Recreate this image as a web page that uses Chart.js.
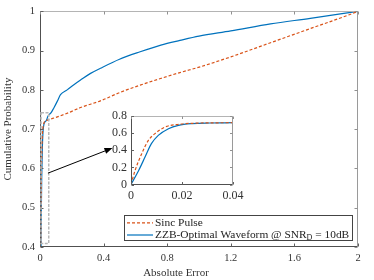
<!DOCTYPE html>
<html><head><meta charset="utf-8">
<script src="https://cdn.jsdelivr.net/npm/chart.js@4.4.1/dist/chart.umd.min.js"></script>
<style>
html,body{margin:0;padding:0;background:#fff;}
#wrap{position:relative;width:374px;height:280px;overflow:hidden;}
#main{position:absolute;left:0;top:0;}
#inset{position:absolute;left:100px;top:104px;}
</style></head><body>
<div id="wrap">
<canvas id="main" width="374" height="280"></canvas>
<canvas id="inset" width="150" height="110"></canvas>
</div>
<script>
// ---- data ----
const zzbErr = [0, 0.003, 0.0055, 0.008, 0.0107, 0.0147, 0.0186, 0.024, 0.031, 0.04, 0.05, 0.07, 0.087, 0.11, 0.129, 0.171, 0.213, 0.255, 0.318, 0.38, 0.5, 0.63, 0.76, 0.88, 1.0, 1.2, 1.45, 1.7, 2.0];
const zzbCdf = [0, 0.164, 0.32, 0.477, 0.574, 0.652, 0.691, 0.711, 0.718, 0.722, 0.733, 0.742, 0.754, 0.772, 0.788, 0.80, 0.813, 0.825, 0.842, 0.855, 0.878, 0.897, 0.914, 0.926, 0.937, 0.950, 0.968, 0.982, 1.0];
const sincErr = [0, 0.0016, 0.0042, 0.0068, 0.0094, 0.0134, 0.0186, 0.025, 0.032, 0.04, 0.06, 0.1, 0.18, 0.255, 0.38, 0.506, 0.63, 0.758, 0.88, 1.01, 1.2, 1.45, 1.7, 1.95, 2.0];
const sincCdf = [0, 0.164, 0.36, 0.515, 0.594, 0.672, 0.703, 0.716, 0.72, 0.722, 0.725, 0.73, 0.742, 0.755, 0.772, 0.794, 0.812, 0.829, 0.844, 0.859, 0.884, 0.92, 0.956, 0.992, 1.0];
const mainXTicks = [0, 0.4, 0.8, 1.2, 1.6, 2];
const mainYTicks = [0.4, 0.5, 0.6, 0.7, 0.8, 0.9, 1];
const insetXTicks = [0, 0.02, 0.04];
const insetYTicks = [0, 0.2, 0.4, 0.6, 0.8];
const seriesNames = ['Sinc Pulse', 'ZZB-Optimal Waveform @ SNR'];
const zoomBox = {x0: 0, x1: 0.055, y0: 0.409, y1: 0.742};
const arrowFrom = {x: 0.05, y: 0.588};
const arrowTo = {x: 0.456, y: 0.652};

const SERIF = '"Liberation Serif", "Times New Roman", serif';
const ORANGE = '#D95319', BLUE = '#0072BD';
const fmt = v => String(Math.round(v * 1000) / 1000);
const pts = (xs, ys) => xs.map((v, i) => ({x: v, y: ys[i]}));

function datasets() {
  return [
    {label: seriesNames[0], data: pts(sincErr, sincCdf), showLine: true, borderColor: ORANGE,
     borderWidth: 1.2, borderDash: [3, 2], pointRadius: 0, cubicInterpolationMode: 'monotone'},
    {label: seriesNames[1], data: pts(zzbErr, zzbCdf), showLine: true, borderColor: BLUE,
     borderWidth: 1.2, pointRadius: 0, cubicInterpolationMode: 'monotone'}
  ];
}

function axis(min, max, ticks, size, pad, fitProp, fitVal) {
  return {
    type: 'linear', min: min, max: max,
    grid: {display: false, drawTicks: false, tickLength: 0}, border: {display: false},
    ticks: {font: {family: SERIF, size: size}, color: '#333', padding: pad,
            maxRotation: 0, autoSkip: false, callback: v => fmt(v)},
    afterBuildTicks: s => { s.ticks = ticks.map(v => ({value: v})); },
    afterFit: s => { s[fitProp] = fitVal; }
  };
}

function drawFrame(chart, xTicks, yTicks, tl) {
  const {ctx, chartArea: a, scales: {x, y}} = chart;
  const L = Math.round(a.left) + 0.5, R = Math.round(a.right) - 0.5;
  const T = Math.round(a.top) + 0.5, B = Math.round(a.bottom) - 0.5;
  ctx.save();
  ctx.lineWidth = 1;
  const seg = (c, x1, y1, x2, y2) => { ctx.strokeStyle = c; ctx.beginPath(); ctx.moveTo(x1, y1); ctx.lineTo(x2, y2); ctx.stroke(); };
  seg('#b4b4b4', L, T, R, T);
  seg('#9a9a9a', R, T, R, B);
  seg('#505050', L, T, L, B);
  seg('#505050', L, B, R, B);
  xTicks.forEach(v => {
    const px = Math.round(x.getPixelForValue(v)) + 0.5;
    seg('#606060', px, B, px, B - tl);
    seg('#909090', px, T, px, T + tl);
  });
  yTicks.forEach(v => {
    const py = Math.round(y.getPixelForValue(v)) + 0.5;
    seg('#606060', L, py, L + tl, py);
    seg('#909090', R, py, R - tl, py);
  });
  ctx.restore();
}

const mainPlugin = {
  id: 'mainDecor',
  afterDatasetsDraw(chart) {
    const {ctx, scales: {x, y}} = chart;
    drawFrame(chart, mainXTicks, mainYTicks, 3);
    // zoom rectangle
    ctx.save();
    ctx.strokeStyle = '#b8b8b8'; ctx.lineWidth = 1.5; ctx.setLineDash([3, 1.5]);
    const rx0 = x.getPixelForValue(zoomBox.x0) + 1, rx1 = x.getPixelForValue(zoomBox.x1);
    const ry0 = y.getPixelForValue(zoomBox.y1), ry1 = y.getPixelForValue(zoomBox.y0);
    ctx.strokeRect(rx0, ry0, rx1 - rx0, ry1 - ry0);
    ctx.restore();
    // arrow
    const ax0 = x.getPixelForValue(arrowFrom.x), ay0 = y.getPixelForValue(arrowFrom.y);
    const ax1 = x.getPixelForValue(arrowTo.x), ay1 = y.getPixelForValue(arrowTo.y);
    const ang = Math.atan2(ay1 - ay0, ax1 - ax0), hl = 8, hw = 3;
    const bx = ax1 - hl * Math.cos(ang), by = ay1 - hl * Math.sin(ang);
    ctx.save();
    ctx.strokeStyle = '#000'; ctx.fillStyle = '#000'; ctx.lineWidth = 1;
    ctx.beginPath(); ctx.moveTo(ax0, ay0); ctx.lineTo(bx, by); ctx.stroke();
    ctx.beginPath(); ctx.moveTo(ax1, ay1);
    ctx.lineTo(bx + hw * Math.sin(ang), by - hw * Math.cos(ang));
    ctx.lineTo(bx - hw * Math.sin(ang), by + hw * Math.cos(ang));
    ctx.closePath(); ctx.fill();
    ctx.restore();
    // legend
    ctx.save();
    ctx.fillStyle = '#fff'; ctx.fillRect(124, 215, 229, 26);
    ctx.strokeStyle = '#444'; ctx.lineWidth = 1; ctx.strokeRect(124.5, 215.5, 228, 25);
    const rows = [222.8, 235];
    ctx.lineWidth = 1.2;
    ctx.strokeStyle = ORANGE; ctx.setLineDash([3, 2]);
    ctx.beginPath(); ctx.moveTo(127, rows[0]); ctx.lineTo(153, rows[0]); ctx.stroke();
    ctx.setLineDash([]); ctx.strokeStyle = BLUE;
    ctx.beginPath(); ctx.moveTo(127, rows[1]); ctx.lineTo(153, rows[1]); ctx.stroke();
    ctx.fillStyle = '#222'; ctx.textAlign = 'left'; ctx.textBaseline = 'middle';
    ctx.font = '11.4px ' + SERIF;
    ctx.fillText(seriesNames[0], 155, rows[0]);
    ctx.fillText(seriesNames[1], 155, rows[1]);
    let wx = 155 + ctx.measureText(seriesNames[1]).width;
    ctx.font = '8px ' + SERIF;
    ctx.fillText('D', wx, rows[1] + 2.5);
    wx += ctx.measureText('D').width;
    ctx.font = '11.4px ' + SERIF;
    ctx.fillText(' = 10dB', wx, rows[1]);
    ctx.restore();
    // axis titles
    ctx.save();
    ctx.fillStyle = '#333'; ctx.font = '11px ' + SERIF; ctx.textAlign = 'center'; ctx.textBaseline = 'middle';
    ctx.fillText('Absolute Error', 176, 273);
    ctx.translate(8.5, 129); ctx.rotate(-Math.PI / 2);
    ctx.fillText('Cumulative Probability', 0, 0);
    ctx.restore();
  }
};

new Chart(document.getElementById('main'), {
  type: 'scatter',
  data: {datasets: datasets()},
  options: {
    animation: false, responsive: false, devicePixelRatio: 1,
    layout: {padding: {left: 0, right: 16, top: 9, bottom: 0}},
    plugins: {legend: {display: false}, tooltip: {enabled: false}},
    scales: {
      x: axis(0, 2, mainXTicks, 10.5, 5, 'height', 33),
      y: axis(0.4, 1, mainYTicks, 10.5, 5, 'width', 40)
    }
  },
  plugins: [mainPlugin]
});

const insetPlugin = {
  id: 'insetDecor',
  beforeDatasetsDraw(chart) {
    const {ctx, chartArea: a} = chart;
    ctx.save(); ctx.fillStyle = '#fff';
    ctx.fillRect(a.left, a.top, a.right - a.left, a.bottom - a.top);
    ctx.restore();
  },
  afterDatasetsDraw(chart) { drawFrame(chart, insetXTicks, insetYTicks, 2.5); }
};

new Chart(document.getElementById('inset'), {
  type: 'scatter',
  data: {datasets: datasets()},
  options: {
    animation: false, responsive: false, devicePixelRatio: 1,
    layout: {padding: {left: 0, right: 17, top: 12, bottom: 0}},
    plugins: {legend: {display: false}, tooltip: {enabled: false}},
    scales: {
      x: axis(0, 0.04, insetXTicks, 12, 4, 'height', 29.5),
      y: axis(0, 0.8, insetYTicks, 12, 4, 'width', 31)
    }
  },
  plugins: [insetPlugin]
});
</script>
</body></html>
